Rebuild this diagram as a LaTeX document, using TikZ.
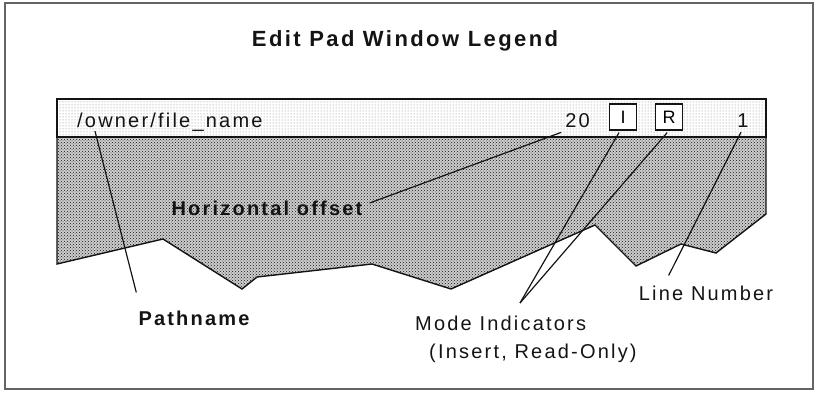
\documentclass[tikz,border=0pt]{standalone}
\usepackage{fontspec}
\setmainfont{Liberation Sans}
\newfontfamily\legendfont[LetterSpace=11]{Liberation Sans}
\usetikzlibrary{patterns, calc, positioning}
\definecolor{framegray}{RGB}{100,100,100}
\definecolor{dotgray}{RGB}{130,130,130}
\definecolor{bodygray}{RGB}{205,205,205}
\definecolor{inkblack}{RGB}{20,20,20}
\tikzset{
  frameline/.style={line width=2.2pt, color=framegray},
  padline/.style={line width=1.4pt, color=inkblack},
  leader/.style={line width=1.2pt, color=inkblack},
  titletext/.style={font=\legendfont\bfseries\fontsize{22}{26}\selectfont,
    inner sep=0pt, anchor=base, text=inkblack},
  bartext/.style={font=\legendfont\fontsize{20}{24}\selectfont,
    inner sep=0pt, anchor=base, text=inkblack},
  modebox/.style={draw=inkblack, line width=1.2pt, fill=white,
    minimum width=27pt, minimum height=26pt, inner sep=0pt,
    font=\legendfont\fontsize{18}{20}\selectfont},
  callout/.style={font=\legendfont\fontsize{20}{28}\selectfont,
    inner sep=0pt, text=inkblack},
  boldcallout/.style={callout, font=\legendfont\bfseries\fontsize{20}{28}\selectfont}
}
\begin{document}
\begin{tikzpicture}[x=1pt, y=-1pt]
  \useasboundingbox (0,0) rectangle (818,396);
  \draw[frameline] (5,3) rectangle (813,389);

  % Title
  \node[titletext] (title) at (405,47) {Edit Pad Window Legend};

  % Pad body and header bar
  \path[fill=bodygray]
    (57,137) -- (57,264) -- (163,239) -- (242,289) -- (257,277) -- (372,264)
    -- (451,289) -- (595,225) -- (636,266) -- (681,244) -- (716,253)
    -- (766,214) -- (766,137) -- cycle;
  \draw[padline, pattern=crosshatch dots, pattern color=inkblack]
    (57,137) -- (57,264) -- (163,239) -- (242,289) -- (257,277) -- (372,264)
    -- (451,289) -- (595,225) -- (636,266) -- (681,244) -- (716,253)
    -- (766,214) -- (766,137);
  \path[fill=white] (57,99) rectangle (766,137);
  \path[pattern=dots, pattern color=dotgray] (57,99) rectangle (766,137);
  \draw[padline] (57,99) rectangle (766,137);

  % Header contents
  \node[bartext, anchor=base west] (pathtxt) at (77,127) {/owner/file\_name};
  \node[bartext, anchor=base east] (offtxt) at (590,127) {20};
  \node[modebox] (insbox) at (623,117) {I};
  \node[modebox, right=18pt of insbox] (robox) {R};
  \node[bartext] (linetxt) at (743,127) {1};

  % Callouts
  \node[boldcallout] (offlbl) at (267,208) {Horizontal offset};
  \node[boldcallout] (pathlbl) at (194,318) {Pathname};
  \node[callout, anchor=north west, align=left] (modelbl) at (415,316)
    {Mode Indicators\\\hspace*{14pt}(Insert, Read-Only)};
  \node[callout] (linelbl) at (706,293) {Line Number};

  % Leaders
  \draw[leader] ([xshift=18pt]pathtxt.south west)
    -- ([xshift=-2pt, yshift=18pt]pathlbl.north west);
  \draw[leader] ([xshift=-4pt, yshift=-5pt]offtxt.south west)
    -- ([xshift=7pt, yshift=5pt]offlbl.east);
  \draw[leader] ([xshift=-4pt, yshift=-2pt]insbox.south)
    -- ([xshift=105pt, yshift=13pt]modelbl.north west);
  \draw[leader] ([xshift=-2pt, yshift=-2pt]robox.south)
    -- ([xshift=105pt, yshift=13pt]modelbl.north west);
  \draw[leader] ([xshift=-2pt, yshift=-5pt]linetxt.south)
    -- ([xshift=30pt, yshift=10pt]linelbl.north west);
\end{tikzpicture}
\end{document}
